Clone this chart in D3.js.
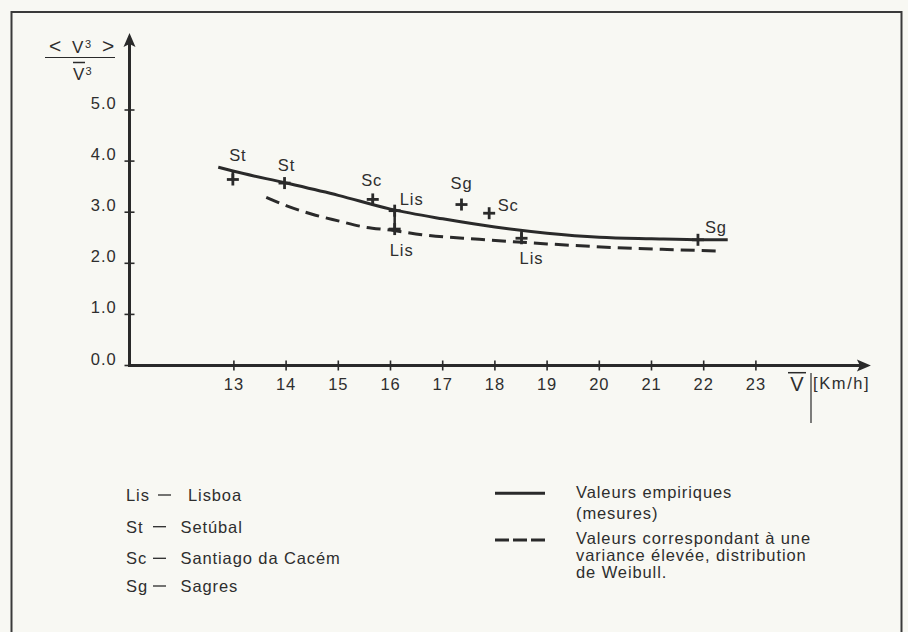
<!DOCTYPE html>
<html><head><meta charset="utf-8">
<script src="https://cdn.jsdelivr.net/npm/d3@7"></script>
<style>
html,body{margin:0;padding:0;background:#f8f8f3;}
svg{display:block;}
text{font-family:"Liberation Sans",Arial,sans-serif;font-size:16.5px;fill:#2e2e2e;letter-spacing:0.9px;}
</style></head><body><svg id="c" width="908" height="632"></svg>
<script>
// ---- data ----
const xTicks=[13,14,15,16,17,18,19,20,21,22,23];
const yTicks=[0,1,2,3,4,5];
const yTickLabels=["0.0","1.0","2.0","3.0","4.0","5.0"];
const empiricalV=[12.7,13,14,15,16,17,18,19,20,21,22,22.46];
const empiricalR=[3.88,3.80,3.57,3.33,3.06,2.87,2.71,2.59,2.51,2.48,2.46,2.46];
const weibullV=[13.62,14,14.5,15,15.5,16,16.6,17.7,19,20.25,21.3,22.34];
const weibullR=[3.29,3.13,2.96,2.83,2.71,2.65,2.56,2.47,2.38,2.31,2.27,2.24];
const stations=["St","St","Sc","Lis","Lis","Sg","Sc","Lis","Sg"];
const stationV=[12.98,13.97,15.66,16.08,16.08,17.36,17.89,18.51,21.89];
const stationR=[3.64,3.57,3.25,3.03,2.67,3.15,2.98,2.49,2.46];
const stationStem=[true,false,true,false,true,false,false,true,false];
const legendCodes=["Lis","St","Sc","Sg"];
const legendNames=["Lisboa","Setúbal","Santiago da Cacém","Sagres"];
const seriesNames=[["Valeurs empiriques","(mesures)"],["Valeurs correspondant à une","variance élevée, distribution","de Weibull."]];

// ---- layout ----
const labelDx=[5,2,-1,17,7,0,19,10,18];
const labelDy=[-24,-18,-19,-12,21,-21,-8,20,-13];
const ink="#2a2a2a";

const svg=d3.select("#c");
svg.append("rect").attr("width",908).attr("height",632).attr("fill","#f8f8f3");
svg.append("rect").attr("x",11.5).attr("y",12).attr("width",890).attr("height",640)
  .attr("fill","none").attr("stroke","#3a3a3a").attr("stroke-width",2);

const x=d3.scaleLinear().domain([11,25]).range([129.5,860.3]);
const y=d3.scaleLinear().domain([0,5]).range([365.5,110]);

// axes
const g=svg.append("g");
g.append("line").attr("x1",x(11)).attr("x2",x(25.05)).attr("y1",y(0)).attr("y2",y(0))
  .attr("stroke",ink).attr("stroke-width",3);
g.append("line").attr("x1",x(11)).attr("x2",x(11)).attr("y1",y(0)+1.5).attr("y2",y(6.35))
  .attr("stroke",ink).attr("stroke-width",3);
const ax=x(25.05), ay=y(0);
g.append("path").attr("d",`M${ax+8},${ay} L${ax-6},${ay-6} L${ax-3},${ay} L${ax-6},${ay+6} Z`).attr("fill",ink);
const yx=x(11), yy=y(6.35);
g.append("path").attr("d",`M${yx},${yy-8} L${yx-6},${yy+6} L${yx},${yy+3} L${yx+6},${yy+6} Z`).attr("fill",ink);

// ticks
g.selectAll(".xt").data(xTicks).enter().append("line")
  .attr("x1",d=>x(d)).attr("x2",d=>x(d)).attr("y1",y(0)-5).attr("y2",y(0)+5)
  .attr("stroke",ink).attr("stroke-width",1.6);
g.selectAll(".xl").data(xTicks).enter().append("text")
  .attr("x",d=>x(d)).attr("y",y(0)+24).attr("text-anchor","middle").text(d=>d);
g.selectAll(".yt").data(yTicks).enter().append("line")
  .attr("x1",x(11)-5).attr("x2",x(11)+5).attr("y1",d=>y(d)).attr("y2",d=>y(d))
  .attr("stroke",ink).attr("stroke-width",1.6);
g.selectAll(".yl").data(yTicks).enter().append("text")
  .attr("x",x(11)-13).attr("y",d=>y(d)-1).attr("text-anchor","end").text((d,i)=>yTickLabels[i]);

// y title  < V³ > / V̄³
const t1=g.append("text").attr("x",49).attr("y",53).style("font-size","17px").style("letter-spacing","0px");
t1.append("tspan").style("font-size","21px").text("<");
t1.append("tspan").attr("x",72).text("V");
t1.append("tspan").attr("x",85).attr("dy",-5).style("font-size","11px").text("3");
t1.append("tspan").attr("x",102).attr("dy",5).style("font-size","21px").text(">");
g.append("line").attr("x1",45).attr("x2",115).attr("y1",57.5).attr("y2",57.5).attr("stroke",ink).attr("stroke-width",1.2);
const t2=g.append("text").attr("x",73).attr("y",80).style("font-size","17px").style("letter-spacing","0px");
t2.append("tspan").text("V");
t2.append("tspan").attr("x",85.5).attr("dy",-5).style("font-size","11px").text("3");
g.append("line").attr("x1",73).attr("x2",85).attr("y1",62.5).attr("y2",62.5).attr("stroke",ink).attr("stroke-width",1.5);

// x title  V̄ | [Km/h]
g.append("text").attr("x",797).attr("y",391).attr("text-anchor","middle").style("font-size","20px").style("letter-spacing","0px").text("V");
g.append("line").attr("x1",788).attr("x2",806).attr("y1",372.7).attr("y2",372.7).attr("stroke",ink).attr("stroke-width",1.5);
g.append("line").attr("x1",811).attr("x2",811).attr("y1",373).attr("y2",423).attr("stroke",ink).attr("stroke-width",1.2);
g.append("text").attr("x",813).attr("y",389).style("letter-spacing","1.6px").text("[Km/h]");

// curves
const empPts=empiricalV.map((v,i)=>[v,empiricalR[i]]);
const weiPts=weibullV.map((v,i)=>[v,weibullR[i]]);
const line=d3.line().x(d=>x(d[0])).y(d=>y(d[1])).curve(d3.curveMonotoneX);
g.append("path").attr("d",line(empPts)).attr("fill","none").attr("stroke",ink).attr("stroke-width",3);
g.append("path").attr("d",line(weiPts)).attr("fill","none").attr("stroke",ink).attr("stroke-width",3)
  .attr("stroke-dasharray","14,7");

// stems & crosses
const empAt=d3.scaleLinear().domain(empiricalV).range(empiricalR);
stationV.forEach((v,i)=>{
  const cx=x(v), cy=y(stationR[i]);
  if(stationStem[i]){
    g.append("line").attr("x1",cx).attr("x2",cx).attr("y1",cy).attr("y2",y(empAt(v)))
      .attr("stroke",ink).attr("stroke-width",2.5);
  }
  g.append("line").attr("x1",cx-6).attr("x2",cx+6).attr("y1",cy).attr("y2",cy).attr("stroke",ink).attr("stroke-width",2.8);
  g.append("line").attr("x1",cx).attr("x2",cx).attr("y1",cy-6).attr("y2",cy+6).attr("stroke",ink).attr("stroke-width",2.8);
  g.append("text").attr("x",cx+labelDx[i]).attr("y",cy+labelDy[i]+5.9).attr("text-anchor","middle").text(stations[i]);
});

// legend left
const legRowY=[495,526.7,558.3,586];
legendCodes.forEach((c,i)=>{
  g.append("text").attr("x",126).attr("y",legRowY[i]+5.9).text(c);
  const d0=i===0?158:153;
  g.append("line").attr("x1",d0).attr("x2",d0+13).attr("y1",legRowY[i]).attr("y2",legRowY[i]).attr("stroke",ink).attr("stroke-width",1.3);
  g.append("text").attr("x",i===0?188:180.5).attr("y",legRowY[i]+5.9).text(legendNames[i]);
});

// legend right
g.append("line").attr("x1",495).attr("x2",545).attr("y1",493.3).attr("y2",493.3).attr("stroke",ink).attr("stroke-width",3);
g.append("line").attr("x1",495).attr("x2",545).attr("y1",540).attr("y2",540).attr("stroke",ink).attr("stroke-width",3).attr("stroke-dasharray","14,4");
const serLineY=[[491.7,512.7],[538.3,555,571.7]];
seriesNames.forEach((lines,s)=>{
  lines.forEach((t,j)=>{
    g.append("text").attr("x",576).attr("y",serLineY[s][j]+5.9).text(t);
  });
});
</script></body></html>
